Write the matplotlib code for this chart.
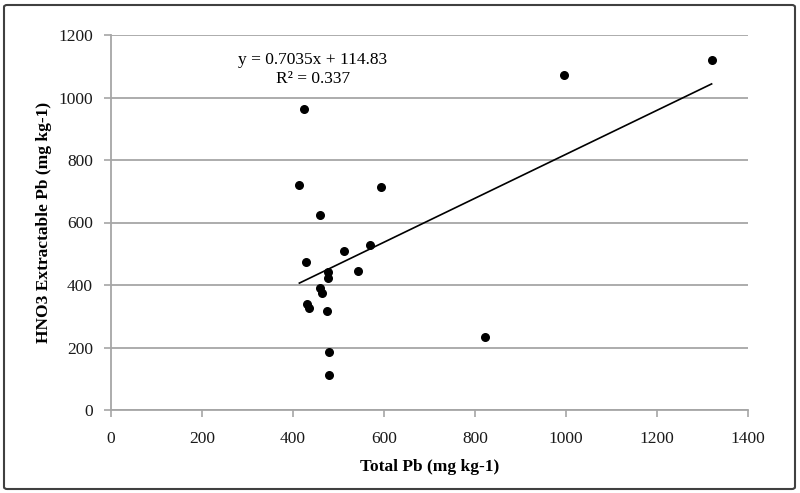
import matplotlib
matplotlib.use('Agg')
import matplotlib.pyplot as plt
from matplotlib.patches import FancyBboxPatch
import numpy as np

# data
total_pb = [425, 995, 1320, 414, 593, 460, 570, 512, 428, 542,
            477, 477, 460, 463, 430, 436, 474, 821, 479, 479]
hno3_pb = [964, 1071, 1120, 719, 714, 623, 529, 509, 474, 446,
           441, 421, 391, 373, 338, 325, 317, 234, 185, 112]
slope = 0.7035
intercept = 114.83
r2 = 0.337

plt.rcParams['font.family'] = ['Liberation Serif', 'DejaVu Serif']
plt.rcParams['font.size'] = 12.5

W, H = 800, 493
fig = plt.figure(figsize=(W / 100, H / 100), dpi=100)
ax = fig.add_axes([111 / W, 1 - 410 / H, (748 - 111) / W, (410 - 35) / H])

grid_col = '#a6a6a6'
ax.set_xlim(0, 1400)
ax.set_ylim(0, 1200)
ax.set_xticks(np.arange(0, 1401, 200))
ax.set_yticks(np.arange(0, 1201, 200))
ax.yaxis.grid(True, color=grid_col, linewidth=1.3)
ax.set_axisbelow(True)
for s in ['top', 'right']:
    ax.spines[s].set_visible(False)
for s in ['left', 'bottom']:
    ax.spines[s].set_color(grid_col)
    ax.spines[s].set_linewidth(1.3)
ax.tick_params(axis='both', colors=grid_col, length=5, width=1.2,
               labelcolor='#1a1a1a')
ax.tick_params(axis='x', pad=10)
ax.tick_params(axis='y', pad=8)

ax.scatter(total_pb, hno3_pb, s=30, color='black', zorder=3)

xs = np.array([min(total_pb), max(total_pb)])
ax.plot(xs, slope * xs + intercept, color='black', linewidth=1.2, zorder=2)

ax.text(313 / W, 1 - 60 / H, 'y = %.4fx + %.2f' % (slope, intercept),
        transform=fig.transFigure, ha='center', va='center')
ax.text(313 / W, 1 - 79 / H, 'R² = %.3f' % r2,
        transform=fig.transFigure, ha='center', va='center')

ax.set_xlabel('Total Pb (mg kg-1)', fontweight='bold', fontsize=12.5)
ax.set_ylabel('HNO3 Extractable Pb (mg kg-1)', fontweight='bold', fontsize=12.5)
ax.xaxis.set_label_coords(0.5, (410 - 459) / 375, transform=ax.transAxes)
ax.yaxis.set_label_coords((52 - 111) / 637, 0.5, transform=ax.transAxes)

border = FancyBboxPatch((4 / W, 4 / H), 791 / W, 484 / H,
                        boxstyle='round,pad=0,rounding_size=0.004',
                        transform=fig.transFigure, fill=False,
                        edgecolor='#404040', linewidth=1.5)
fig.patches.append(border)

fig.savefig('out.png', dpi=100)
